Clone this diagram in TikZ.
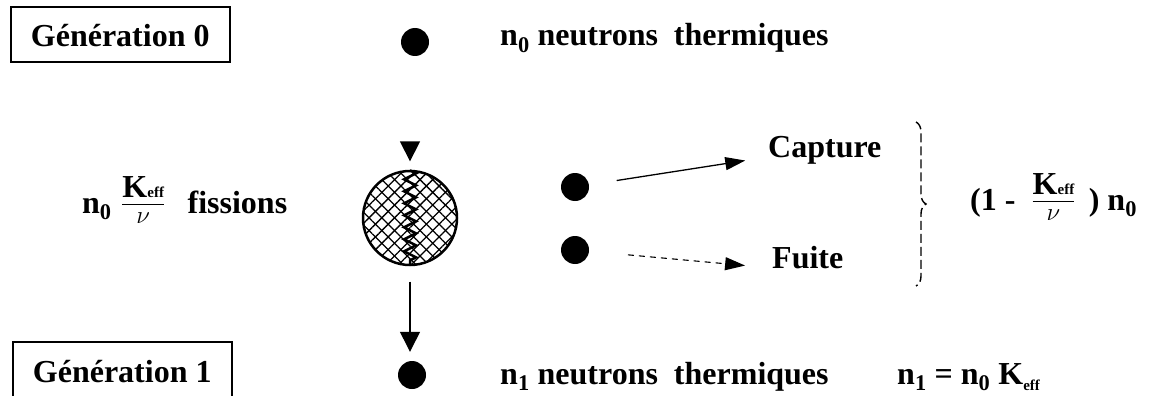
\documentclass[tikz,border=0pt]{standalone}
\usepackage{amsmath}
\usepackage{fontspec}
\setmainfont{Liberation Serif}
\usetikzlibrary{positioning,arrows.meta,patterns.meta,decorations.pathmorphing,decorations.pathreplacing}

\newcommand{\petit}[1]{{\fontsize{15}{15}\selectfont #1}}
\newcommand{\keffnu}{\raisebox{2pt}{\ensuremath{\genfrac{}{}{1pt}{}{\hbox{K\petit{eff}\rule[-6pt]{0pt}{6pt}}}{\hbox{\rule{0pt}{17pt}}\textstyle\nu}}}}

\begin{document}
\begin{tikzpicture}[
        x=1pt, y=-1pt,
        >={Triangle[length=20pt,width=13pt]},
        every node/.style={font=\fontsize{32}{38}\selectfont\bfseries, inner sep=0pt},
        box/.style={
            draw,
            line width=1.5pt,
            minimum width=219pt,
            text height=40pt,
            anchor=base west
        },
        dot/.style={circle, fill=black, minimum size=28pt},
        lbl/.style={anchor=base west},
        arr/.style={->, line width=1.3pt},
        down/.style={-{Triangle[length=20pt,width=20pt]}, line width=1.3pt}
    ]
        \useasboundingbox (0,0) rectangle (1159,396);

        % generation 0
        \node[box, text depth=15pt] (gen0) at (10,47) {Génération 0};
        \node[dot] (dot0) at (415,42) {};
        \node[lbl] (therm0) at (500,46) {n\textsubscript{0} neutrons\ \ thermiques};

        % fission
        \node[lbl] (fis) at (82,213) {n\textsubscript{0}\hspace{0.3em}\keffnu\hspace{0.7em}fissions};
        \node[circle, draw, line width=2.5pt, minimum size=94pt,
            preaction={pattern={Lines[angle=45,distance=9pt,line width=1.3pt]}},
            pattern={Lines[angle=-45,distance=9pt,line width=1.3pt]}] (noyau) at (410,218) {};
        \draw[line width=2.5pt, decorate, decoration={zigzag, segment length=12pt, amplitude=6pt}]
            (noyau.north) -- (noyau.south);
        \coordinate (entree) at (410,142);
        \draw[down, shorten >=9pt] (entree) -- (noyau.north);

        % capture et fuite
        \node[dot] (dotA) at (575,187) {};
        \node[dot] (dotB) at (575,250) {};
        \node[lbl] (capt) at (768,157) {Capture};
        \node[lbl] (fuite) at (772,268) {Fuite};
        \draw[arr, shorten <=28pt, shorten >=23pt] (dotA) -- (capt.base west);
        \draw[arr, dash pattern=on 6pt off 5pt, line width=1.1pt, shorten <=39pt, shorten >=27pt] (dotB) -- (fuite.base west);

        \coordinate (bhaut) at (916,122);
        \coordinate (bbas) at (916,286);
        \draw[dash pattern=on 9pt off 4pt, line width=1.4pt, decorate, decoration={brace, amplitude=10pt}] (bhaut) -- (bbas);
        \node[lbl] (perte) at (970,210) {(1 -\ \ \keffnu\ \,) n\textsubscript{0}};

        % generation 1
        \node[box, text depth=40pt] (gen1) at (12,382) {Génération 1};
        \node[dot] (dot1) at (412,375) {};
        \draw[down, shorten <=16pt, shorten >=9pt] (noyau.south) -- (noyau.south |- dot1.north);
        \node[lbl] (therm1) at (500,384) {n\textsubscript{1} neutrons\ \ thermiques};
        \node[lbl] (bilan) at (897,384) {n\textsubscript{1}\ =\ n\textsubscript{0}\ K\raisebox{-6pt}{\petit{eff}}};
    \end{tikzpicture}
\end{document}
